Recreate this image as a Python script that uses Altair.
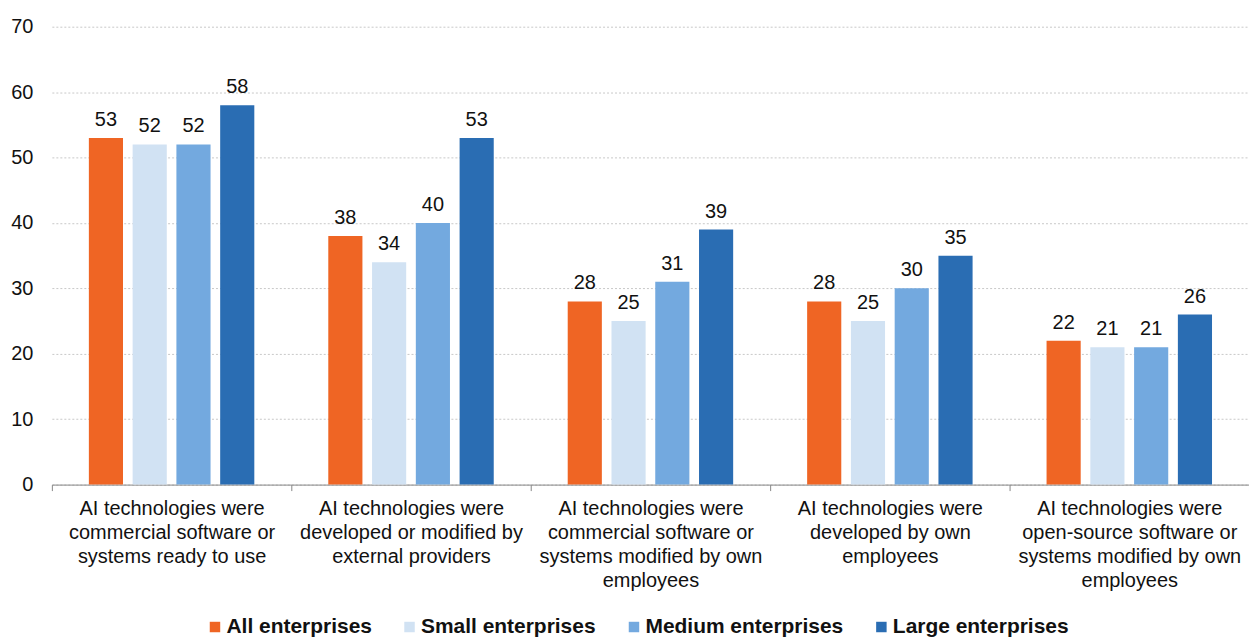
import altair as alt
import pandas as pd

categories = [
    "AI technologies were|commercial software or|systems ready to use",
    "AI technologies were|developed or modified by|external providers",
    "AI technologies were|commercial software or|systems modified by own|employees",
    "AI technologies were|developed by own|employees",
    "AI technologies were|open-source software or|systems modified by own|employees",
]
series = ["All enterprises", "Small enterprises", "Medium enterprises", "Large enterprises"]
all_ent = [53, 38, 28, 28, 22]
small_ent = [52, 34, 25, 25, 21]
medium_ent = [52, 40, 31, 30, 21]
large_ent = [58, 53, 39, 35, 26]
colors = ["#EF6524", "#D1E2F3", "#73A9DF", "#2A6DB3"]

rows = []
for s, vals in zip(series, [all_ent, small_ent, medium_ent, large_ent]):
    for c, v in zip(categories, vals):
        rows.append({"category": c, "series": s, "value": v})
df = pd.DataFrame(rows)

FONT = "Liberation Sans"

x = alt.X("category:N", sort=categories, title=None,
          scale=alt.Scale(paddingInner=0, paddingOuter=0),
          axis=alt.Axis(labelAngle=0, labelExpr="split(datum.label, '|')",
                        labelFont=FONT, labelFontSize=20, labelColor="#111",
                        labelLineHeight=24, labelPadding=8, labelLimit=260,
                        tickBand="extent", tickSize=6, tickColor="#888",
                        domainColor="#888", grid=False))
xo = alt.XOffset("series:N", sort=series,
                 scale=alt.Scale(paddingInner=0.22, paddingOuter=0.845))
y = alt.Y("value:Q", title=None,
          scale=alt.Scale(domain=[0, 70]),
          axis=alt.Axis(values=list(range(0, 71, 10)), domain=False, ticks=False,
                        labelFont=FONT, labelFontSize=20, labelColor="#111",
                        labelPadding=19, gridColor="#C8C8C8", gridDash=[2, 2]))

bars = alt.Chart(df).mark_bar().encode(
    x=x, xOffset=xo, y=y,
    color=alt.Color("series:N", sort=series,
                    scale=alt.Scale(domain=series, range=colors),
                    legend=alt.Legend(title=None, orient="none", direction="horizontal",
                                      legendX=153, legendY=591,
                                      symbolType="square", symbolSize=110,
                                      symbolStrokeWidth=0, labelOffset=1,
                                      labelFont=FONT,
                                      labelFontSize=21, labelFontWeight="bold",
                                      labelColor="#111", columnPadding=27,
                                      labelLimit=300)),
)

labels = alt.Chart(df).mark_text(baseline="bottom", dy=-8, font=FONT,
                                 fontSize=20, color="#111").encode(
    x=alt.X("category:N", sort=categories), xOffset=xo, y="value:Q",
    text="value:Q")

chart = alt.layer(bars, labels).properties(
    width=1200, height=459,
    autosize=alt.AutoSizeParams(type="none"),
    padding={"left": 52, "top": 26, "right": 0, "bottom": 152},
).configure_view(stroke=None)

chart.save("out.html", embed_options={"renderer": "svg", "actions": False})
